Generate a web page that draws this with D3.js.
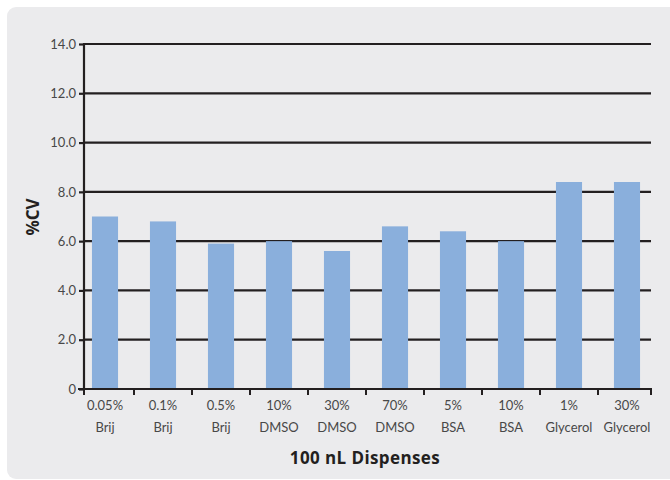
<!DOCTYPE html>
<html>
<head>
<meta charset="utf-8">
<script src="https://cdn.jsdelivr.net/npm/d3@7"></script>
<style>
html,body{margin:0;padding:0;background:#fff;}
svg{display:block;font-family:Lato,"Open Sans",sans-serif;}
</style>
</head>
<body>
<svg id="chart" width="670" height="480"></svg>
<script>
const categoriesTop = ["0.05%","0.1%","0.5%","10%","30%","70%","5%","10%","1%","30%"];
const categoriesBottom = ["Brij","Brij","Brij","DMSO","DMSO","DMSO","BSA","BSA","Glycerol","Glycerol"];
const cvValues = [7.0, 6.8, 5.9, 6.0, 5.6, 6.6, 6.4, 6.0, 8.4, 8.4];
const yTicks = [0, 2, 4, 6, 8, 10, 12, 14];
const yTickLabels = ["0","2.0","4.0","6.0","8.0","10.0","12.0","14.0"];
const xTitle = "100 nL Dispenses";
const yTitle = "%CV";

const svg = d3.select("#chart");
const ids = categoriesTop.map((d,i)=>i);

// panel
svg.append("rect").attr("x",7).attr("y",7).attr("width",680).attr("height",472)
  .attr("rx",9).attr("fill","#ebebed");

const x = d3.scaleBand().domain(ids).range([76,656]).paddingInner(0.55).paddingOuter(0.275);
const xb = d3.scaleBand().domain(ids).range([76,656]);
const y = d3.scaleLinear().domain([0,14]).range([389,44]);
const axL = 84, axR = 651;

// gridlines
svg.append("g").selectAll("line").data(yTicks.filter(d=>d>0)).join("line")
  .attr("x1",axL).attr("x2",axR).attr("y1",d=>y(d)).attr("y2",d=>y(d))
  .attr("stroke","#231f20").attr("stroke-width",2.2);

// bars
svg.append("g").selectAll("rect").data(cvValues).join("rect")
  .attr("x",(d,i)=>x(i)).attr("width",x.bandwidth())
  .attr("y",d=>y(d)).attr("height",d=>y(0)-y(d))
  .attr("fill","#8aafdc");

// y axis
const yAxis = d3.axisLeft(y).tickValues(yTicks).tickSize(5).tickPadding(3)
  .tickFormat((d,i)=>yTickLabels[i]);
const gy = svg.append("g").attr("transform",`translate(${axL},0)`).call(yAxis);
gy.select(".domain").remove();
gy.selectAll(".tick line").attr("stroke","#231f20").attr("stroke-width",2.2);
gy.selectAll(".tick text").attr("font-size",13).attr("fill","#484848").attr("font-weight",400)
  .attr("font-family","Lato,sans-serif");
svg.append("line").attr("x1",axL).attr("x2",axL).attr("y1",y(14)-1).attr("y2",y(0)+1)
  .attr("stroke","#231f20").attr("stroke-width",2.2);

// x axis line
svg.append("line").attr("x1",axL-6).attr("x2",axR+1).attr("y1",y(0)).attr("y2",y(0))
  .attr("stroke","#231f20").attr("stroke-width",2.2);
const tickXs = [axL].concat(ids.slice(1).map(i=>xb(i))).concat([axR]);
svg.append("g").selectAll("line").data(tickXs).join("line")
  .attr("x1",d=>d).attr("x2",d=>d).attr("y1",y(0)).attr("y2",y(0)+6)
  .attr("stroke","#231f20").attr("stroke-width",2);

// x labels
const lab = svg.append("g").selectAll("text").data(ids).join("text")
  .attr("x",i=>x(i)+x.bandwidth()/2).attr("text-anchor","middle")
  .attr("font-size",13).attr("fill","#484848").attr("font-weight",400);
lab.append("tspan").attr("x",i=>x(i)+x.bandwidth()/2).attr("y",410).text(i=>categoriesTop[i]);
lab.append("tspan").attr("x",i=>x(i)+x.bandwidth()/2).attr("y",432).text(i=>categoriesBottom[i]);

// titles
svg.append("text").attr("x",365).attr("y",464).attr("text-anchor","middle")
  .attr("font-family","'Open Sans',sans-serif").attr("letter-spacing",0.4)
  .attr("font-size",17).attr("font-weight",700).attr("fill","#231f20").text(xTitle);
svg.append("text").attr("transform","translate(39,217) rotate(-90)").attr("text-anchor","middle")
  .attr("font-family","'Open Sans',sans-serif")
  .attr("font-size",17).attr("font-weight",700).attr("fill","#231f20").text(yTitle);
</script>
</body>
</html>
